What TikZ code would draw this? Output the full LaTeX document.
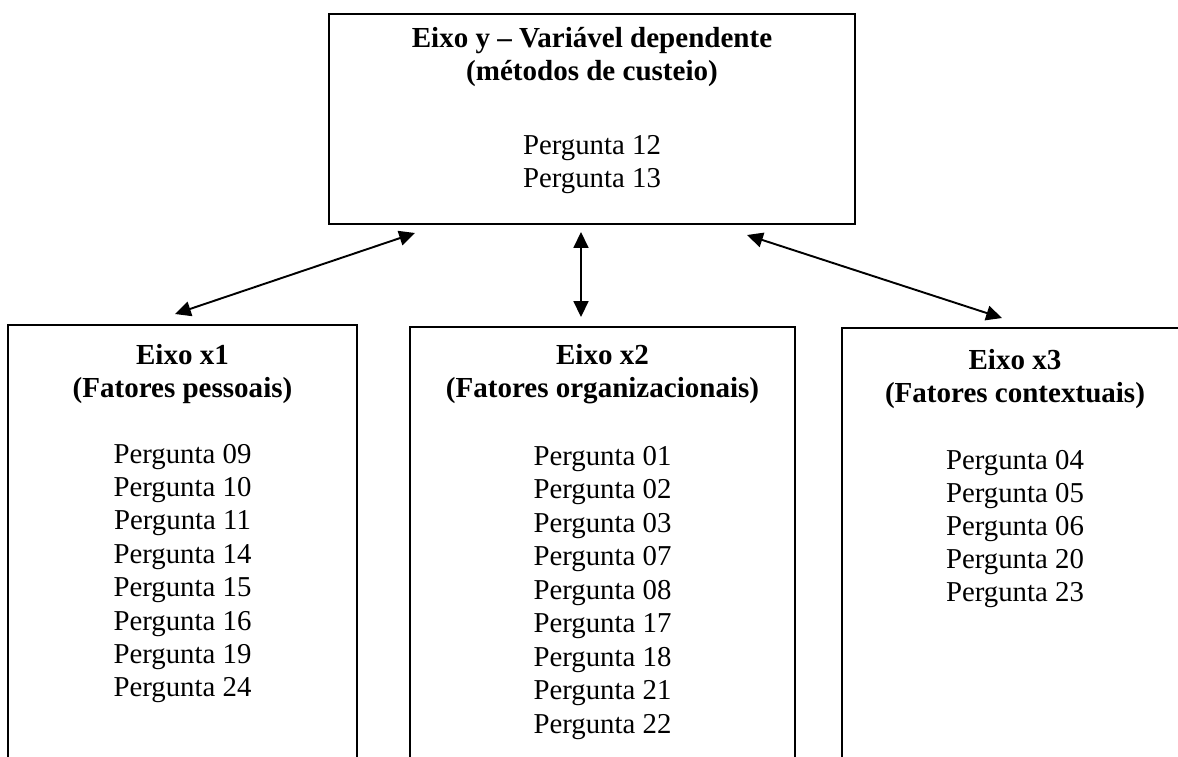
\documentclass[tikz,border=0pt]{standalone}
\usepackage{fontspec}
\setmainfont{Liberation Serif}
\usetikzlibrary{arrows.meta}
\begin{document}
\begin{tikzpicture}[x=0.41667pt,y=-0.41667pt,
  box/.style={draw=black,line width=0.9pt,rectangle,inner sep=0pt},
  ttl/.style={anchor=base,inner sep=0pt,font=\fontsize{12.1}{13.8}\selectfont\bfseries},
  txt/.style={anchor=base,inner sep=0pt,font=\fontsize{12}{13.8}\selectfont},
  conn/.style={line width=0.8pt,{Triangle[length=6.6pt,width=6.2pt]}-{Triangle[length=6.6pt,width=6.2pt]}}]
\clip (0,0) rectangle (1178,756);
\fill[white] (0,0) rectangle (1178,756);
% boxes
\node[box,minimum width=526*0.41667pt,minimum height=210*0.41667pt] (ybox) at (592,119) {};
\node[box,minimum width=349*0.41667pt,minimum height=445*0.41667pt] (x1box) at (182.5,547.5) {};
\node[box,minimum width=385*0.41667pt,minimum height=443*0.41667pt] (x2box) at (602.5,548.5) {};
\node[box,minimum width=346*0.41667pt,minimum height=442*0.41667pt] (x3box) at (1015,549) {};
% top box texts
\node[ttl] (yt1) at (592,47) {Eixo y – Variável dependente};
\node[ttl] (yt2) at (592,80) {(métodos de custeio)};
\node[txt] (yq1) at (592,154) {Pergunta 12};
\node[txt] (yq2) at (592,187) {Pergunta 13};
% x1
\node[ttl] (x1t1) at (182.5,364) {Eixo x1};
\node[ttl] (x1t2) at (182.5,397) {(Fatores pessoais)};
\foreach \t [count=\i] in {09,10,11,14,15,16,19,24}
  \node[txt] (x1q\i) at (182.5,{463+33.4*(\i-1)}) {Pergunta \t};
% x2
\node[ttl] (x2t1) at (602.5,364) {Eixo x2};
\node[ttl] (x2t2) at (602.5,397) {(Fatores organizacionais)};
\foreach \t [count=\i] in {01,02,03,07,08,17,18,21,22}
  \node[txt] (x2q\i) at (602.5,{465+33.5*(\i-1)}) {Pergunta \t};
% x3
\node[ttl] (x3t1) at (1015,369) {Eixo x3};
\node[ttl] (x3t2) at (1015,402) {(Fatores contextuais)};
\foreach \t [count=\i] in {04,05,06,20,23}
  \node[txt] (x3q\i) at (1015,{469+33.2*(\i-1)}) {Pergunta \t};
% connectors
\coordinate (a1s) at (415,233);
\coordinate (a1e) at (175,314);
\coordinate (a2s) at (581,232);
\coordinate (a2e) at (581,317);
\coordinate (a3s) at (747,235);
\coordinate (a3e) at (1002,318);
\draw[conn] (a1s) -- (a1e);
\draw[conn] (a2s) -- (a2e);
\draw[conn] (a3s) -- (a3e);
\end{tikzpicture}
\end{document}
